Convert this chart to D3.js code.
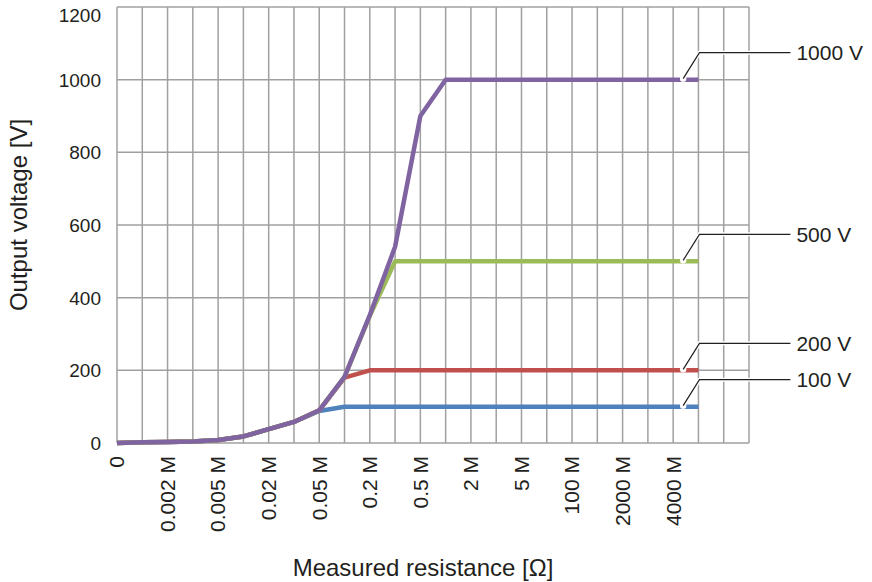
<!DOCTYPE html>
<html>
<head>
<meta charset="utf-8">
<script src="https://cdn.jsdelivr.net/npm/d3@7"></script>
<style>
  body { margin: 0; background: #fff; }
  text { font-family: "Liberation Sans", Arial, sans-serif; fill: #231f20; }
</style>
</head>
<body>
<script>
// Tick labels for every grid column (only even columns carry a label)
var xLabels = ["0", "", "0.002 M", "", "0.005 M", "", "0.02 M", "", "0.05 M", "", "0.2 M", "",
               "0.5 M", "", "2 M", "", "5 M", "", "100 M", "", "2000 M", "", "4000 M", "", "", ""];
var yTicks = [0, 200, 400, 600, 800, 1000, 1200];

// Output voltage per column, one array per range
var v100  = [0, 2, 3, 4, 8, 18, 38, 58, 88, 100, 100, 100, 100, 100, 100, 100, 100, 100, 100, 100, 100, 100, 100, 100];
var v200  = [0, 2, 3, 4, 8, 18, 38, 58, 90, 180, 200, 200, 200, 200, 200, 200, 200, 200, 200, 200, 200, 200, 200, 200];
var v500  = [0, 2, 3, 4, 8, 18, 38, 58, 90, 182, 350, 500, 500, 500, 500, 500, 500, 500, 500, 500, 500, 500, 500, 500];
var v1000 = [0, 2, 3, 4, 8, 18, 38, 58, 90, 182, 352, 540, 900, 1000, 1000, 1000, 1000, 1000, 1000, 1000, 1000, 1000, 1000, 1000];

var seriesNames = ["100 V", "200 V", "500 V", "1000 V"];
var seriesColors = ["#4f81bd", "#c0504d", "#9bbb59", "#8064a2"];
var seriesData = [v100, v200, v500, v1000];

//Define Margin
var margin = {left: 117, right: 123, top: 7, bottom: 139},
    width = 872 - margin.left - margin.right,
    height = 582 - margin.top - margin.bottom;

var svg = d3.select("body")
    .append("svg")
    .attr("width", 872)
    .attr("height", 582);

var g = svg.append("g")
    .attr("transform", "translate(" + margin.left + "," + margin.top + ")");

var x = d3.scaleLinear()
    .domain([0, xLabels.length - 1])
    .range([0, width]);

var y = d3.scaleLinear()
    .domain([0, 1200])
    .range([height, 0]);

//Grid
g.append("g")
    .selectAll("line")
    .data(d3.range(xLabels.length))
    .enter().append("line")
    .attr("x1", function(d) { return x(d); })
    .attr("x2", function(d) { return x(d); })
    .attr("y1", 0)
    .attr("y2", height)
    .attr("stroke", "#a0a0a0")
    .attr("stroke-width", 1.5);

g.append("g")
    .selectAll("line")
    .data(yTicks)
    .enter().append("line")
    .attr("x1", 0)
    .attr("x2", width)
    .attr("y1", function(d) { return y(d); })
    .attr("y2", function(d) { return y(d); })
    .attr("stroke", "#a0a0a0")
    .attr("stroke-width", 1.5);

//Y axis labels (top one pushed down so it stays inside the page)
var yAxis = g.append("g")
    .call(d3.axisLeft(y).tickValues(yTicks).tickFormat(d3.format("d")).tickSize(0).tickPadding(16));
yAxis.select(".domain").remove();
yAxis.selectAll("text")
    .style("font-size", "19px")
    .style("font-family", "'Liberation Sans', Arial, sans-serif")
    .attr("fill", "#231f20")
    .attr("dy", function(d) { return d == 1200 ? "0.75em" : "0.35em"; });

//X axis labels, rotated
g.append("g")
    .selectAll("text")
    .data(xLabels)
    .enter().append("text")
    .attr("transform", function(d, i) { return "translate(" + x(i) + "," + (height + 13) + ") rotate(-90)"; })
    .attr("text-anchor", "end")
    .attr("dy", "0.35em")
    .style("font-size", "21px")
    .text(function(d) { return d; });

//Series lines
var line = d3.line()
    .x(function(d, i) { return x(i); })
    .y(function(d) { return y(d); });

g.append("g")
    .selectAll("path")
    .data(seriesData)
    .enter().append("path")
    .attr("d", line)
    .attr("fill", "none")
    .attr("stroke", function(d, i) { return seriesColors[i]; })
    .attr("stroke-width", 4.5)
    .attr("stroke-linejoin", "round");

//Leader lines and labels
var last = v1000.length - 1;
var leaders = g.append("g")
    .selectAll("g")
    .data(seriesData)
    .enter().append("g");

function leaderPath(d) {
    var v = d[last];
    return "M" + (x(last - 1) + 10) + "," + (y(v) - 1) +
           "L" + (x(last) + 1) + "," + (y(v) - 27) +
           "L" + (x(last) + 92) + "," + (y(v) - 27);
}

leaders.append("circle")
    .attr("cx", x(last - 1) + 10)
    .attr("cy", function(d) { return y(d[last]) - 1; })
    .attr("r", 3.2)
    .attr("fill", "#fff");

leaders.append("path")
    .attr("d", leaderPath)
    .attr("fill", "none")
    .attr("stroke", "#fff")
    .attr("stroke-width", 4);

leaders.append("path")
    .attr("d", leaderPath)
    .attr("fill", "none")
    .attr("stroke", "#231f20")
    .attr("stroke-width", 1.2);

leaders.append("text")
    .attr("x", x(last) + 98)
    .attr("y", function(d) { return y(d[last]) - 27; })
    .attr("dy", "0.35em")
    .style("font-size", "21px")
    .text(function(d, i) { return seriesNames[i]; });

//Axis titles
svg.append("text")
    .attr("x", 423)
    .attr("y", 576)
    .attr("text-anchor", "middle")
    .style("font-size", "24px")
    .text("Measured resistance [Ω]");

svg.append("text")
    .attr("transform", "translate(27,215) rotate(-90)")
    .attr("text-anchor", "middle")
    .style("font-size", "24px")
    .text("Output voltage [V]");
</script>
</body>
</html>
